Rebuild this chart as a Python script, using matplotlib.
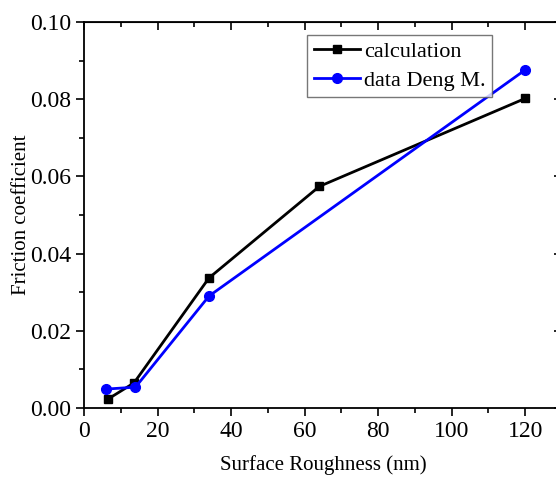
import matplotlib.pyplot as plt
from matplotlib.ticker import MultipleLocator

plt.rcParams['font.family'] = ['Liberation Serif', 'DejaVu Serif']

# calculation (black squares)
calc_x = [6.5, 13.6, 34, 64, 120]
calc_y = [0.0023, 0.0065, 0.0337, 0.0574, 0.0802]

# data Deng M. (blue circles)
deng_x = [6, 14, 34, 120]
deng_y = [0.0049, 0.0054, 0.029, 0.0876]

fig = plt.figure(figsize=(5.56, 4.78), dpi=100)
ax = fig.add_axes([84 / 556, 1 - 408 / 478, (562 - 84) / 556, (408 - 22) / 478])

ax.plot(calc_x, calc_y, color='black', lw=2, marker='s', ms=6, label='calculation')
ax.plot(deng_x, deng_y, color='#0000ff', lw=2, marker='o', ms=7, label='data Deng M.')

ax.set_xlim(0, 130)
ax.set_ylim(0, 0.10)
ax.xaxis.set_major_locator(MultipleLocator(20))
ax.xaxis.set_minor_locator(MultipleLocator(10))
ax.yaxis.set_major_locator(MultipleLocator(0.02))
ax.yaxis.set_minor_locator(MultipleLocator(0.01))
ax.yaxis.set_major_formatter(plt.FormatStrFormatter('%.2f'))

ax.tick_params(which='both', direction='out', labelsize=17, width=1.2)
ax.tick_params(which='major', length=6)
ax.tick_params(which='minor', length=3.5)
for s in ax.spines.values():
    s.set_linewidth(1.3)

ax.set_xlabel('Surface Roughness (nm)', fontsize=15, labelpad=9)
ax.set_ylabel('Friction coefficient', fontsize=15)
ax.yaxis.set_label_coords(-0.11, 0.5)

# inward ticks on top/right
top = ax.secondary_xaxis('top')
top.xaxis.set_major_locator(MultipleLocator(20))
top.xaxis.set_minor_locator(MultipleLocator(10))
top.tick_params(which='both', direction='in', labeltop=False, width=1.2)
top.tick_params(which='major', length=6)
top.tick_params(which='minor', length=3.5)
right = ax.secondary_yaxis('right')
right.yaxis.set_major_locator(MultipleLocator(0.02))
right.yaxis.set_minor_locator(MultipleLocator(0.01))
right.tick_params(which='both', direction='in', labelright=False, width=1.2)
right.tick_params(which='major', length=6)
right.tick_params(which='minor', length=3.5)

leg = ax.legend(loc='upper left', bbox_to_anchor=((307 - 84) / 478, 1 - 13 / 386),
                fontsize=16, frameon=True, fancybox=False, edgecolor='#555555',
                handlelength=2.1, handletextpad=0.15, borderpad=0.3, labelspacing=0.35,
                borderaxespad=0)
leg.get_frame().set_linewidth(1.0)

fig.savefig('out.png', dpi=100)
